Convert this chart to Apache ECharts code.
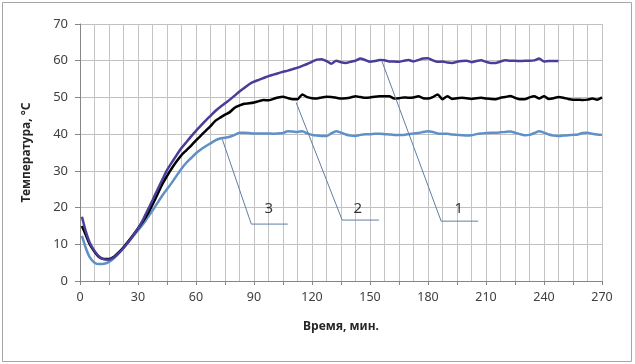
<!DOCTYPE html>
<html><head><meta charset="utf-8">
<script src="https://cdn.jsdelivr.net/npm/echarts@6/dist/echarts.min.js"></script>
<style>html,body{margin:0;padding:0;background:#fff}#c{width:635px;height:364px}</style>
</head><body><div id="c"></div>
<script>
const xName = 'Время, мин.';
const yName = 'Температура, °C';
const xTickLabels = [0, 30, 60, 90, 120, 150, 180, 210, 240, 270];

const t1 = [1,3,5,7.5,10,12.5,15,17.5,20,22.5,25,27.5,30,32.5,35,37.5,40,42.5,45,47.5,50,52.5,55,57.5,60,62.5,65,67.5,70,72.5,75,77.5,80,82.5,85,87.5,90,92.5,95,97.5,100,102.5,105,107.5,110,112.5,115,117.5,120,122.5,125,127.5,130,132.5,135,137.5,140,142.5,145,147.5,150,152.5,155,157.5,160,162.5,165,167.5,170,172.5,175,177.5,180,182.5,185,187.5,190,192.5,195,197.5,200,202.5,205,207.5,210,212.5,215,217.5,220,222.5,225,227.5,230,232.5,235,237.5,240,242.5,245,247.5];
const v1 = [17.5,13.5,10.5,8.2,6.6,5.9,5.8,6.4,7.6,9,10.6,12.4,14.3,16.6,19.3,22,24.8,27.5,30.2,32.3,34.3,36.2,37.8,39.4,40.9,42.3,43.7,45,46.3,47.4,48.4,49.4,50.5,51.6,52.6,53.6,54.3,54.8,55.3,55.8,56.2,56.6,57,57.3,57.7,58.1,58.6,59.1,59.7,60.3,60.4,59.9,59.2,60,59.6,59.4,59.7,60,60.6,60.2,59.7,59.9,60.2,60.1,59.8,59.8,59.7,60,60.2,59.8,60.2,60.6,60.7,60.1,59.7,59.8,59.5,59.4,59.7,59.9,60,59.6,59.9,60.1,59.7,59.4,59.4,59.8,60.1,60,60,59.9,60,60,60.1,60.6,59.8,59.9,59.9,59.9];

const t2 = [1,3,5,7.5,10,12.5,15,17.5,20,22.5,25,27.5,30,32.5,35,37.5,40,42.5,45,47.5,50,52.5,55,57.5,60,62.5,65,67.5,70,72.5,75,77.5,80,82.5,85,87.5,90,92.5,95,97.5,100,102.5,105,107.5,110,112.5,115,117.5,120,122.5,125,127.5,130,132.5,135,137.5,140,142.5,145,147.5,150,152.5,155,157.5,160,162.5,165,167.5,170,172.5,175,177.5,180,182.5,185,187.5,190,192.5,195,197.5,200,202.5,205,207.5,210,212.5,215,217.5,220,222.5,225,227.5,230,232.5,235,237.5,240,242.5,245,247.5,250,252.5,255,257.5,260,262.5,265,267.5,270];
const v2 = [15,12.5,10,8,6.5,6,6,6.6,7.8,9.2,10.8,12.5,14.3,16.2,18.3,20.8,23.5,26.3,28.6,30.7,32.6,34.3,35.6,36.9,38.3,39.6,40.9,42.2,43.6,44.5,45.3,46,47.2,47.8,48.3,48.4,48.6,49,49.3,49.2,49.6,50,50.2,49.8,49.5,49.5,50.8,50.1,49.8,49.7,50,50.2,50.1,49.9,49.7,49.8,50,50.3,50.1,49.9,50,50.2,50.3,50.3,50.3,49.7,49.8,50,49.9,50,50.3,49.8,49.7,50.1,50.8,49.5,50.3,49.6,49.8,49.9,49.8,49.6,49.8,49.9,49.7,49.6,49.5,49.9,50.1,50.4,49.9,49.5,49.5,50,50.3,49.7,50.3,49.6,49.8,50.1,49.9,49.6,49.4,49.4,49.3,49.4,49.7,49.4,50];

const t3 = t2;
const v3 = [12.3,9,6.5,5,4.6,4.7,5.2,6.2,7.5,9,10.6,12.2,13.8,15.4,17.3,19.2,21.2,23.2,25,26.8,28.7,30.6,32.2,33.5,34.8,35.8,36.7,37.5,38.3,38.8,39,39.3,39.8,40.4,40.4,40.3,40.2,40.2,40.2,40.2,40.1,40.2,40.3,40.8,40.7,40.6,40.8,40.2,39.8,39.6,39.5,39.5,40.2,40.8,40.4,39.9,39.6,39.5,39.8,40,40,40.1,40.1,40,39.9,39.8,39.8,39.8,40,40.2,40.3,40.6,40.8,40.6,40.2,40.1,40.1,39.9,39.8,39.7,39.6,39.7,40,40.2,40.3,40.4,40.4,40.5,40.6,40.7,40.4,40,39.7,39.8,40.3,40.8,40.4,39.9,39.6,39.5,39.6,39.7,39.8,39.9,40.3,40.4,40.1,39.9,39.8];

const callout1 = [[156.3,59.7],[186.8,16.3],[206,16.3]];
const callout2 = [[111.8,48.6],[135.6,16.6],[154.6,16.6]];
const callout3 = [[73.6,38.6],[88.6,15.5],[107.5,15.5]];
const calloutLabels = [[195.9,19.8,'1'],[143.7,19.8,'2'],[97.7,19.8,'3']];

const zip = (t, v) => t.map((x, i) => [x, v[i]]);
const txt = '#404040';
const font = 'Noto Sans';

const chart = echarts.init(document.getElementById('c'), null, {renderer: 'canvas'});
const lineS = (data, color) => ({
  type: 'line', data, showSymbol: false, symbol: 'none', smooth: 0.2,
  lineStyle: {color, width: 2.5}, xAxisIndex: 0, z: 3, animation: false
});
const callS = (data) => ({
  type: 'line', data, showSymbol: false, symbol: 'none',
  lineStyle: {color: '#5f7fa6', width: 1}, z: 4, animation: false
});
chart.setOption({
  animation: false,
  backgroundColor: '#fff',
  graphic: [{type: 'rect', shape: {x: 2.5, y: 2.5, width: 629, height: 359}, style: {fill: 'none', stroke: '#a6a6a6', lineWidth: 1}, z: -1}],
  grid: {left: 80, right: 33, top: 24, bottom: 83, containLabel: false},
  xAxis: [{
    type: 'value', min: 0, max: 270, interval: 7.5,
    name: xName, nameLocation: 'middle', nameGap: 40,
    nameTextStyle: {fontFamily: font, fontWeight: 'bold', fontSize: 12, color: '#262626'},
    axisLine: {show: true, lineStyle: {color: '#868686'}},
    axisTick: {show: false},
    axisLabel: {fontFamily: font, fontSize: 12.5, color: txt, margin: 10,
      formatter: v => xTickLabels.includes(v) ? String(v) : ''},
    splitLine: {show: true, lineStyle: {color: '#c4c4c4', width: 1}}
  }, {
    type: 'value', min: 0, max: 270, interval: 15, position: 'bottom',
    axisLine: {show: false}, axisLabel: {show: false}, splitLine: {show: false},
    axisTick: {show: true, length: 4, lineStyle: {color: '#868686'}}
  }],
  yAxis: {
    type: 'value', min: 0, max: 70, interval: 10,
    name: yName, nameLocation: 'middle', nameGap: 47, nameRotate: 90,
    nameTextStyle: {fontFamily: font, fontWeight: 'bold', fontSize: 12, color: '#262626'},
    axisLine: {show: true, lineStyle: {color: '#868686'}},
    axisTick: {show: true, length: 5, lineStyle: {color: '#868686'}},
    axisLabel: {fontFamily: font, fontSize: 13, color: txt, margin: 12},
    splitLine: {show: true, lineStyle: {color: '#c0c0c0', width: 1}}
  },
  series: [
    lineS(zip(t3, v3), '#5f91c8'),
    lineS(zip(t2, v2), '#000000'),
    lineS(zip(t1, v1), '#4a3d98'),
    callS(callout1), callS(callout2), callS(callout3),
    {type: 'scatter', data: calloutLabels, symbolSize: 0, z: 5,
      label: {show: true, position: 'inside', formatter: p => p.data[2],
        fontFamily: font, fontSize: 15, color: '#000'}}
  ]
});
</script></body></html>
